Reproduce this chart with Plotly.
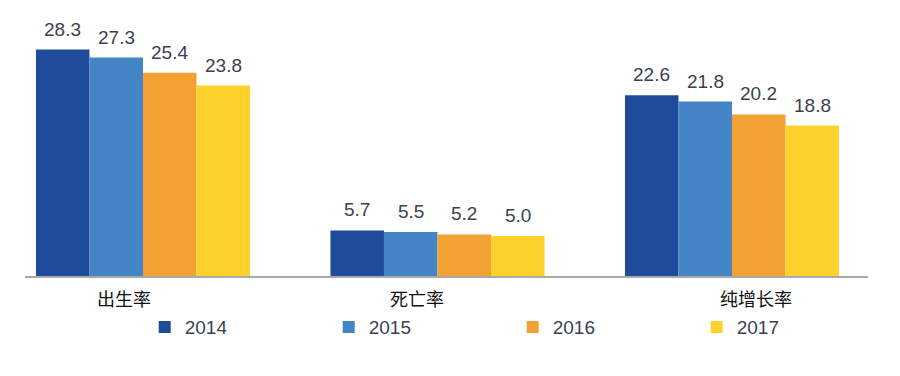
import plotly.graph_objects as go

categories = ["出生率", "死亡率", "纯增长率"]
years = ["2014", "2015", "2016", "2017"]
v2014 = [28.3, 5.7, 22.6]
v2015 = [27.3, 5.5, 21.8]
v2016 = [25.4, 5.2, 20.2]
v2017 = [23.8, 5.0, 18.8]
series = [v2014, v2015, v2016, v2017]
colors = ["#1f4b9b", "#4385c6", "#f2a233", "#fdd22c"]
label_shift = [-19, -21, 24]

bargap = 0.273
n = len(series)
bw = (1 - bargap) / n

fig = go.Figure()
for j, (name, vals, col) in enumerate(zip(years, series, colors)):
    xs = list(range(len(categories)))
    fig.add_trace(go.Bar(
        x=xs, y=vals, name=name,
        marker=dict(color=col, line=dict(width=0)),
    ))
    for i, v in zip(xs, vals):
        fig.add_annotation(x=i + (j - (n - 1) / 2) * bw, y=v, yref="y", text=f"{v:.1f}",
                           showarrow=False, yanchor="bottom", yshift=8,
                           font=dict(family="Liberation Sans, Arial", size=19, color="#3b4150"))

for i, c in enumerate(categories):
    fig.add_annotation(x=i, y=0, yref="y", text=c, showarrow=False,
                       yanchor="top", yshift=-7, xshift=label_shift[i],
                       font=dict(family="Noto Sans CJK SC", size=18, color="#111111"))

fig.update_layout(
    width=900, height=376,
    margin=dict(l=17, r=40, t=12, b=108, autoexpand=False),
    paper_bgcolor="white", plot_bgcolor="white",
    barmode="group", bargap=bargap, bargroupgap=0,
    showlegend=True,
    legend=dict(orientation="h", x=0.142, xanchor="left", y=-0.2, yanchor="middle",
                entrywidth=139, entrywidthmode="pixels",
                font=dict(family="Liberation Sans, Arial", size=19, color="#3b4150")),
    xaxis=dict(range=[-0.4007, 2.4618], showticklabels=False, ticks="", showgrid=False,
               zeroline=False, showline=True, linecolor="#a8a8a8", linewidth=1.5),
    yaxis=dict(range=[0, 32], visible=False),
)
fig.write_html("out.html")
